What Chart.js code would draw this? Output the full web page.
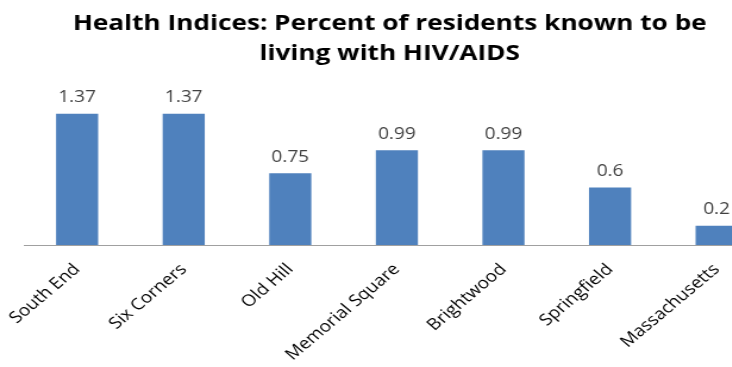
<!DOCTYPE html>
<html>
<head>
<meta charset="utf-8">
<script src="https://cdn.jsdelivr.net/npm/chart.js@4/dist/chart.umd.min.js"></script>
<style>
  html, body { margin: 0; padding: 0; background: #fff; overflow: hidden; }
  body { width: 732px; height: 367px; }
  /* the chart is laid out at 655px and widened to fill the slide frame */
  #wrap { width: 655px; height: 367px; transform: scaleX(1.19); transform-origin: 0 0; }
</style>
</head>
<body>
<div id="wrap"><canvas id="c" width="655" height="367"></canvas></div>
<script>
const categories = ['South End', 'Six Corners', 'Old Hill', 'Memorial Square', 'Brightwood', 'Springfield', 'Massachusetts'];
const hivPercent = [1.37, 1.37, 0.75, 0.99, 0.99, 0.6, 0.2];
const titleLines = ['Health Indices: Percent of residents known to be', 'living with HIV/AIDS'];

const FONT = '"Open Sans", "DejaVu Sans", sans-serif';

// Value labels drawn above each bar
const valueLabels = {
  id: 'valueLabels',
  afterDatasetsDraw(chart) {
    const ctx = chart.ctx;
    const meta = chart.getDatasetMeta(0);
    ctx.save();
    ctx.font = '16px ' + FONT;
    ctx.fillStyle = '#404040';
    ctx.textAlign = 'center';
    ctx.textBaseline = 'middle';
    meta.data.forEach((bar, i) => {
      ctx.fillText(String(hivPercent[i]), bar.x, bar.y - 16);
    });
    ctx.restore();
  }
};

new Chart(document.getElementById('c'), {
  type: 'bar',
  data: {
    labels: categories,
    datasets: [{
      data: hivPercent,
      backgroundColor: '#4F81BD',
      borderWidth: 0,
      categoryPercentage: 1,
      barPercentage: 0.395
    }]
  },
  options: {
    responsive: false,
    animation: false,
    devicePixelRatio: 1,
    layout: { padding: { left: 8, right: 8, top: 0, bottom: 0 } },
    plugins: {
      legend: { display: false },
      tooltip: { enabled: false },
      title: {
        display: true,
        text: titleLines,
        color: '#000',
        font: { family: FONT, size: 22, weight: 'bold', lineHeight: 1.36 },
        padding: { top: 9, bottom: 23 }
      }
    },
    scales: {
      x: {
        grid: { display: false, drawTicks: false },
        border: { display: true, color: '#A0A0A0', width: 1 },
        ticks: {
          color: '#000',
          font: { family: FONT, size: 16 },
          maxRotation: 45,
          minRotation: 45,
          padding: 15,
          autoSkip: false
        },
        afterFit(scale) {
          scale.height = 122;
          scale.paddingLeft = 20;
          scale.paddingRight = 8;
        }
      },
      y: {
        display: false,
        min: 0,
        max: 1.6
      }
    }
  },
  plugins: [valueLabels]
});
</script>
</body>
</html>
